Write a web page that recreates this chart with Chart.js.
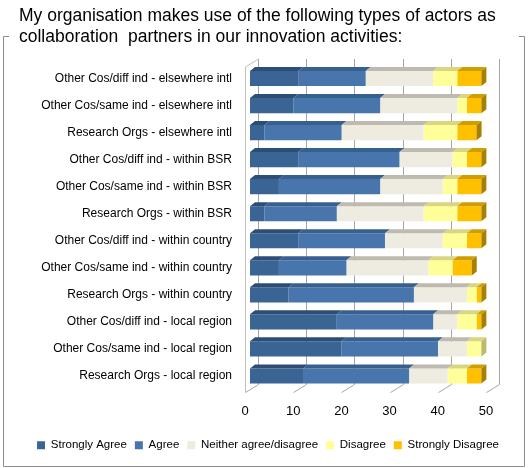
<!DOCTYPE html>
<html>
<head>
<meta charset="utf-8">
<script src="https://cdn.jsdelivr.net/npm/chart.js@4.4.1/dist/chart.umd.min.js"></script>
<style>
  html, body { margin: 0; padding: 0; background: #fff; }
</style>
</head>
<body>
<canvas id="chart" width="528" height="468"></canvas>
<script>
// Data (number of respondents)
const categories = [
  'Other Cos/diff ind - elsewhere intl',
  'Other Cos/same ind - elsewhere intl',
  'Research Orgs - elsewhere intl',
  'Other Cos/diff ind - within BSR',
  'Other Cos/same ind - within BSR',
  'Research Orgs - within BSR',
  'Other Cos/diff ind - within country',
  'Other Cos/same ind - within country',
  'Research Orgs - within country',
  'Other Cos/diff ind - local region',
  'Other Cos/same ind - local region',
  'Research Orgs - local region'
];
const stronglyAgree    = [10, 9, 3, 10, 6, 3, 10, 6, 8, 18, 19, 11];
const agree            = [14, 18, 16, 21, 21, 15, 18, 14, 26, 20, 20, 22];
const neither          = [14, 16, 17, 11, 13, 18, 12, 17, 11, 5, 6, 8];
const disagree         = [5, 2, 7, 3, 3, 7, 5, 5, 2, 4, 3, 4];
const stronglyDisagree = [5, 3, 4, 3, 5, 5, 3, 4, 1, 1, 0, 3];
const xTicks = [0, 10, 20, 30, 40, 50];

const titleLines = [
  'My organisation makes use of the following types of actors as',
  'collaboration  partners in our innovation activities:'
];

const FONT = '"Liberation Sans", Arial, sans-serif';
const DX = 5, DY = 4;          // 3d depth of the bars
const WY = 8;                  // depth of the floor

// front colour, top colour, side colour
const palette = [
  ['#3A6494', '#2C4E76', '#23405F'],
  ['#4775AC', '#38608F', '#2D4E75'],
  ['#EEECE1', '#BEBAAF', '#A9A69C'],
  ['#FFFF99', '#D9D67F', '#BDBB6B'],
  ['#FFC000', '#D09E00', '#A88000']
];

// white background, outer frame and the title
const framePlugin = {
  id: 'frame',
  afterLayout(chart) {
    // legend is centred on the whole frame, not only on the plot
    chart.legend.left = 18;
    chart.legend.right = 518;
  },
  beforeDraw(chart) {
    const ctx = chart.ctx;
    ctx.save();
    ctx.fillStyle = '#fff';
    ctx.fillRect(0, 0, chart.width, chart.height);
    ctx.strokeStyle = '#8C8C8C';
    ctx.lineWidth = 1;
    ctx.beginPath();
    ctx.moveTo(9, 36.5); ctx.lineTo(3.5, 36.5); ctx.lineTo(3.5, 466.5);
    ctx.lineTo(524.5, 466.5); ctx.lineTo(524.5, 36.5); ctx.lineTo(519, 36.5);
    ctx.stroke();
    ctx.fillStyle = '#000';
    ctx.font = '17.5px ' + FONT;
    ctx.textBaseline = 'middle';
    ctx.fillText(titleLines[0], 19, 16);
    ctx.fillText(titleLines[1], 19, 37);
    ctx.restore();
  }
};

// back wall grid lines, floor lines and the left wall
const wallPlugin = {
  id: 'walls',
  beforeDatasetsDraw(chart) {
    const ctx = chart.ctx;
    const xs = chart.scales.x;
    const area = chart.chartArea;
    const front = area.bottom + 3;
    const top = area.top - 6;
    ctx.save();
    ctx.lineWidth = 1;
    ctx.strokeStyle = '#A6A6A6';
    xTicks.forEach(v => {
      const px = Math.round(xs.getPixelForValue(v)) + 0.5;
      ctx.beginPath();
      ctx.moveTo(px + 8, top);
      ctx.lineTo(px + 8, front - WY);
      ctx.lineTo(px - 5, front);
      ctx.stroke();
    });
    // left wall
    const x0 = Math.round(xs.getPixelForValue(0)) + 0.5;
    ctx.strokeStyle = '#BFBFBF';
    ctx.beginPath();
    ctx.moveTo(x0 + 8, top);
    ctx.lineTo(x0 - 5, top + WY);
    ctx.lineTo(x0 - 5, front);
    ctx.stroke();
    ctx.restore();
  }
};

// top and right faces to get the 3d look
const depthPlugin = {
  id: 'depth',
  afterDatasetsDraw(chart) {
    const ctx = chart.ctx;
    const n = chart.data.datasets.length;
    ctx.save();
    for (let d = 0; d < n; d++) {
      const meta = chart.getDatasetMeta(d);
      meta.data.forEach((bar, i) => {
        const p = bar.getProps(['x', 'y', 'base', 'height'], true);
        if (chart.data.datasets[d].data[i] <= 0) return;
        const t = p.y - p.height / 2;
        const b = p.y + p.height / 2;
        ctx.fillStyle = palette[d][1];
        ctx.beginPath();
        ctx.moveTo(p.base, t);
        ctx.lineTo(p.x, t);
        ctx.lineTo(p.x + DX, t - DY);
        ctx.lineTo(p.base + DX, t - DY);
        ctx.closePath();
        ctx.fill();
        // right side only on the last visible piece of the row
        let last = true;
        for (let k = d + 1; k < n; k++) {
          if (chart.data.datasets[k].data[i] > 0) last = false;
        }
        if (last) {
          ctx.fillStyle = palette[d][2];
          ctx.beginPath();
          ctx.moveTo(p.x, t);
          ctx.lineTo(p.x + DX, t - DY);
          ctx.lineTo(p.x + DX, b - DY);
          ctx.lineTo(p.x, b);
          ctx.closePath();
          ctx.fill();
        }
      });
    }
    ctx.restore();
  }
};

const seriesNames = ['Strongly Agree', 'Agree', 'Neither agree/disagree', 'Disagree', 'Strongly Disagree'];
const seriesValues = [stronglyAgree, agree, neither, disagree, stronglyDisagree];

const datasets = seriesNames.map((name, i) => ({
  label: name,
  data: seriesValues[i],
  backgroundColor: palette[i][0],
  borderWidth: 0,
  barPercentage: 0.56,
  categoryPercentage: 1
}));

new Chart(document.getElementById('chart'), {
  type: 'bar',
  data: { labels: categories, datasets: datasets },
  options: {
    indexAxis: 'y',
    responsive: false,
    animation: false,
    devicePixelRatio: 1,
    layout: { padding: { top: 65, right: 37, bottom: 7, left: 0 } },
    scales: {
      x: {
        stacked: true,
        min: 0,
        max: 50,
        afterBuildTicks: scale => { scale.ticks = xTicks.map(v => ({ value: v })); },
        afterFit: scale => { scale.height = 42; },
        grid: { display: false, drawTicks: false },
        border: { display: false },
        ticks: { color: '#000', font: { family: FONT, size: 13 }, padding: 14, labelOffset: -5, maxRotation: 0 }
      },
      y: {
        stacked: true,
        afterFit: scale => { scale.width = 250; },
        grid: { display: false, drawTicks: false },
        border: { display: false },
        ticks: { color: '#000', font: { family: FONT, size: 12 }, padding: 18, autoSkip: false }
      }
    },
    plugins: {
      legend: {
        position: 'bottom',
        labels: { color: '#000', font: { family: FONT, size: 11.5 }, boxWidth: 8, boxHeight: 8, padding: 8 }
      },
      tooltip: { enabled: false }
    }
  },
  plugins: [framePlugin, wallPlugin, depthPlugin]
});
</script>
</body>
</html>
